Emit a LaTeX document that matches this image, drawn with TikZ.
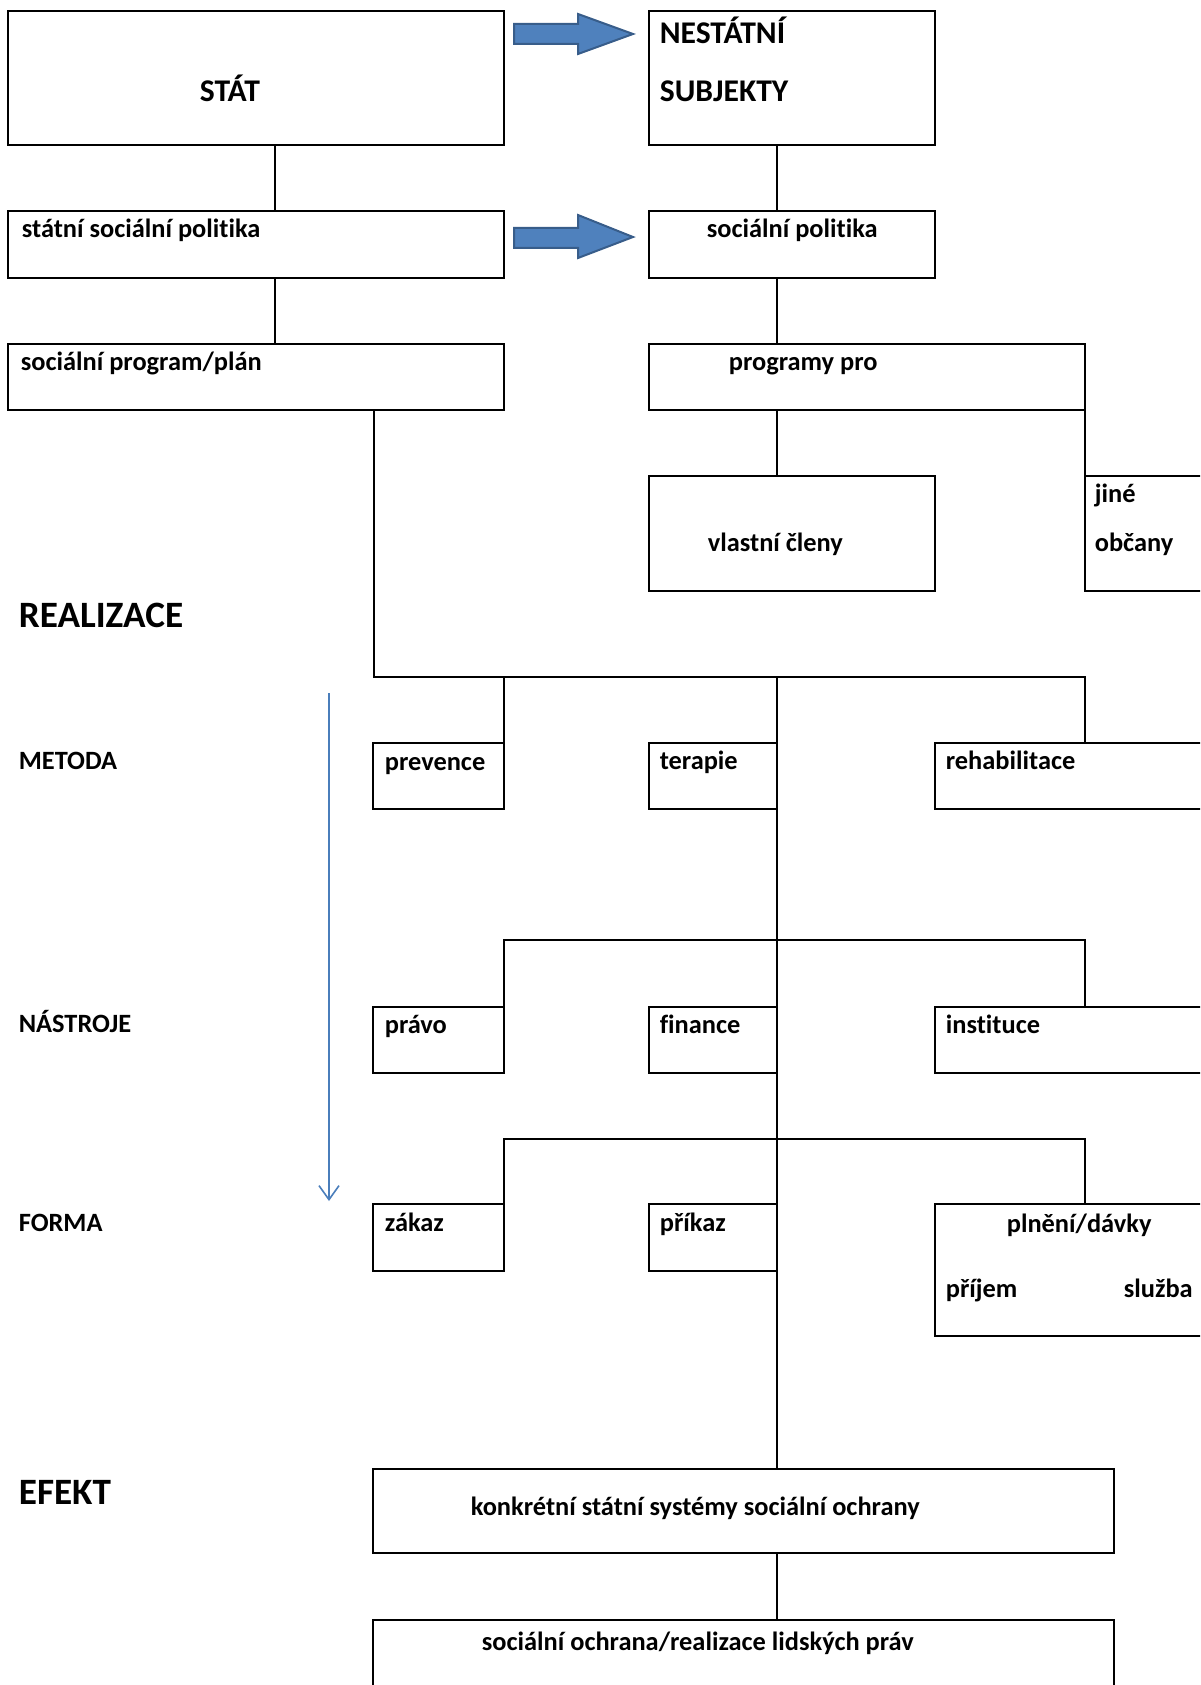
\documentclass[tikz,border=0pt]{standalone}
\usepackage{fontspec}
\setmainfont{Carlito}[Ligatures=NoCommon]
\usetikzlibrary{arrows.meta}
\definecolor{arrowblue}{HTML}{4F81BD}
\definecolor{arrowedge}{HTML}{385D8A}
\definecolor{flowblue}{HTML}{4A7EBB}
\begin{document}
\begin{tikzpicture}[x=0.5pt, y=-0.5pt, line width=0.85pt,
  box/.style 2 args={draw, rectangle, anchor=north west, inner sep=0pt, outer sep=0pt, minimum width=#1*0.5pt, minimum height=#2*0.5pt},
  txt/.style={anchor=base west, inner sep=0pt, font=\fontsize{13.2}{16}\selectfont\bfseries},
  head/.style={txt, font=\fontsize{15.8}{19}\selectfont\bfseries},
  stage/.style={txt, font=\fontsize{18.6}{22}\selectfont\bfseries},
  blockarrow/.style={fill=arrowblue, draw=arrowedge, line width=1pt},
  flow/.style={draw=flowblue, line width=0.8pt, -{Straight Barb[length=7pt,width=10pt]}}]
\useasboundingbox (0,0) rectangle (1200,1685);
\fill[white] (0,0) rectangle (1200,1685);
\clip (0,0) rectangle (1200,1685);

% boxes
\node[box={496}{134}] (stat) at (8,11) {};
\node[box={286}{134}] (nestat) at (649,11) {};
\node[box={496}{67}] (stpol) at (8,211) {};
\node[box={286}{67}] (socpol) at (649,211) {};
\node[box={496}{66}] (program) at (8,344) {};
\node[box={436}{66}] (progpro) at (649,344) {};
\node[box={286}{115}] (clenove) at (649,476) {};
\node[box={140}{115}] (obcane) at (1085,476) {};
\node[box={131}{66}] (prevence) at (373,743) {};
\node[box={128}{66}] (terapie) at (649,743) {};
\node[box={280}{66}] (rehab) at (935,743) {};
\node[box={131}{66}] (pravo) at (373,1007) {};
\node[box={128}{66}] (finance) at (649,1007) {};
\node[box={280}{66}] (instituce) at (935,1007) {};
\node[box={131}{67}] (zakaz) at (373,1204) {};
\node[box={128}{67}] (prikaz) at (649,1204) {};
\node[box={280}{132}] (plneni) at (935,1204) {};
\node[box={741}{84}] (konkret) at (373,1469) {};
\node[box={741}{120}] (ochrana) at (373,1620) {};

% texts
\node[head] (t-stat) at (199,102) {STÁT};
\node[head] (t-nes1) at (659,44) {NESTÁTNÍ};
\node[head] (t-nes2) at (659,102) {SUBJEKTY};
\node[txt] (t-stpol) at (21,237) {státní sociální politika};
\node[txt] (t-socpol) at (706,237) {sociální politika};
\node[txt] (t-program) at (20,370) {sociální program/plán};
\node[txt] (t-progpro) at (728,370) {programy pro};
\node[txt] (t-clen) at (707,551) {vlastní členy};
\node[txt] (t-jine) at (1094,502) {jiné};
\node[txt] (t-obc) at (1094,551) {občany};
\node[stage] (realizace) at (18,627) {REALIZACE};
\node[txt] (metoda) at (18,769) {METODA};
\node[txt] (t-prev) at (384,770) {prevence};
\node[txt] (t-ter) at (659,769) {terapie};
\node[txt] (t-reh) at (945,769) {rehabilitace};
\node[txt] (nastroje) at (18,1032) {NÁSTROJE};
\node[txt] (t-pravo) at (384,1033) {právo};
\node[txt] (t-fin) at (659,1033) {finance};
\node[txt] (t-inst) at (945,1033) {instituce};
\node[txt] (forma) at (18,1231) {FORMA};
\node[txt] (t-zakaz) at (384,1231) {zákaz};
\node[txt] (t-prikaz) at (659,1231) {příkaz};
\node[txt] (t-plneni) at (1006,1232) {plnění/dávky};
\node[txt] (t-prijem) at (945,1297) {příjem};
\node[txt] (t-sluzba) at (1123,1297) {služba};
\node[stage] (efekt) at (18,1504) {EFEKT};
\node[txt] (t-konkret) at (470,1515) {konkrétní státní systémy sociální ochrany};
\node[txt] (t-ochrana) at (481,1650) {sociální ochrana/realizace lidských práv};

% connectors
\coordinate (leftx) at (275,0);
\coordinate (spinex) at (374,0);
\coordinate (midx) at (777,0);
\coordinate (rightx) at (1085,0);
\coordinate (metodabar) at (0,677);
\coordinate (nastrojebar) at (0,940);
\coordinate (formabar) at (0,1139);
\draw (stat.south -| leftx) -- (stpol.north -| leftx);
\draw (stpol.south -| leftx) -- (program.north -| leftx);
\draw (nestat.south -| midx) -- (socpol.north -| midx);
\draw (socpol.south -| midx) -- (progpro.north -| midx);
\draw (progpro.south -| midx) -- (clenove.north -| midx);
\draw (progpro.south east) -- (obcane.north west);
\draw (program.south -| spinex) |- (metodabar -| rightx) -- (rehab.north -| rightx);
\draw (metodabar -| prevence.north east) -- (prevence.north east);
\draw (metodabar -| midx) -- (konkret.north -| midx);
\draw (pravo.north east) |- (nastrojebar -| rightx) -- (instituce.north -| rightx);
\draw (zakaz.north east) |- (formabar -| rightx) -- (plneni.north -| rightx);
\draw (konkret.south -| midx) -- (ochrana.north -| midx);

% block arrows
\draw[blockarrow] (514,24) -- (578,24) -- (578,14) -- (633,34) -- (578,54) -- (578,44) -- (514,44) -- cycle;
\draw[blockarrow] (514,228) -- (578,228) -- (578,215) -- (633,237) -- (578,258) -- (578,248) -- (514,248) -- cycle;

% flow arrow
\coordinate (flowtop) at (329,693);
\coordinate (flowend) at (329,1201);
\draw[flow] (flowtop) -- (flowend);
\end{tikzpicture}
\end{document}
